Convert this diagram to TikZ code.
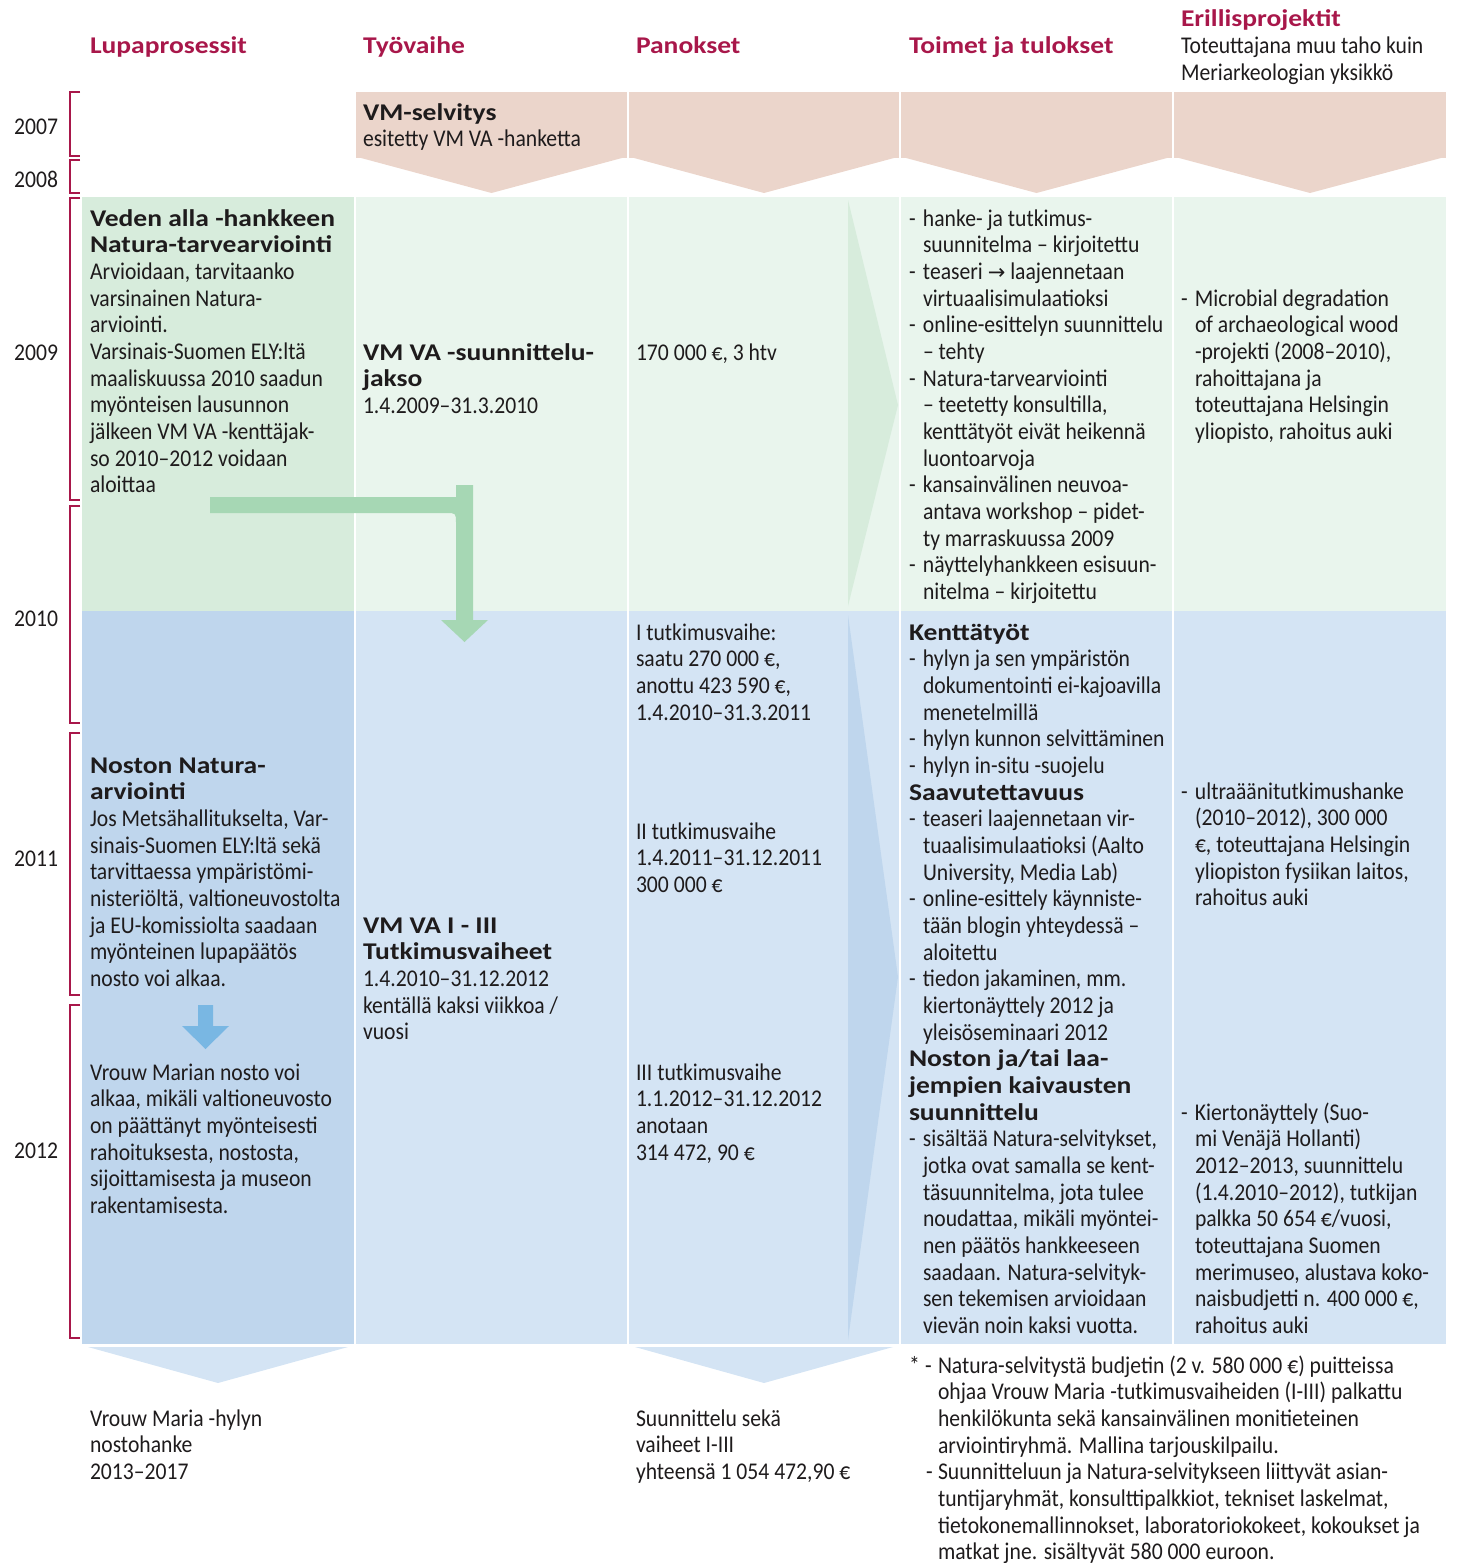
\documentclass[tikz,border=0pt]{standalone}
\usepackage{fontspec}
\newfontfamily\probe{Carlito}
\newfontfamily\arrowfont{DejaVu Sans}
\newdimen\wR \newdimen\wB
\makeatletter
\newcommand\ptnum[1]{\strip@pt#1}
\makeatother
\newcommand\fsz{\fontsize{24}{26.67}\selectfont}
\newcommand\blk[1]{\vtop{\baselineskip=26.67pt\lineskiplimit=-50pt\lineskip=0pt\halign{##\hfil\cr#1\crcr}}}
\newcommand\B[1]{{\bodyB\bfseries #1}}
\newcommand\dd{\hbox to 14pt{-\hfil}}
\newcommand\ii{\hskip14pt\relax}
\definecolor{pinkc}{HTML}{EBD5CB}
\definecolor{gdark}{HTML}{D7ECDC}
\definecolor{glight}{HTML}{E9F5ED}
\definecolor{bdark}{HTML}{BFD6ED}
\definecolor{blight}{HTML}{D4E4F4}
\definecolor{garrow}{HTML}{A6D7B4}
\definecolor{barrow}{HTML}{79B7E3}
\definecolor{redc}{HTML}{A8174A}
\definecolor{txt}{HTML}{1E1B1C}
\begin{document}%
\settowidth\wR{\probe\fsz tietokonemallinnokset, laboratoriokokeet, kokoukset ja}%
\settowidth\wB{\probe\bfseries\fsz Veden alla -hankkeen}%
\edef\sR{\fpeval{round(482/\ptnum\wR,4)}}%
\edef\sB{\fpeval{round(245/\ptnum\wB,4)}}%
\edef\tmp{\noexpand\newfontfamily\noexpand\bodyR{Carlito}[FakeStretch=\sR]\noexpand\newfontfamily\noexpand\bodyB{Carlito}[FakeStretch=\sB]}\tmp%
\begin{tikzpicture}[x=1pt,y=-1pt,
  every node/.style={inner sep=0pt,outer sep=0pt,text=txt,font=\bodyR\fsz},
  txtn/.style={anchor=base west},
  yr/.style={anchor=base east},
  hdr/.style={anchor=base west,text=redc,font=\bodyB\bfseries\fsz},
  yrbr/.style={draw=redc,line width=1.3pt}]
\useasboundingbox (0,0) rectangle (1457,1563);
% pink band with chevrons
\foreach \a/\b in {356/627,629/899,901/1172,1174/1446}{
  \fill[pinkc] (\a,92) rectangle (\b,158);
  \fill[pinkc] (\a+5,158) -- ({(\a+\b)/2},193) -- (\b-5,158) -- cycle;
}
% green band
\fill[gdark] (82,197) rectangle (354,611);
\foreach \a/\b in {356/627,629/899,901/1172,1174/1446}
  \fill[glight] (\a,197) rectangle (\b,611);
% blue band
\fill[bdark] (82,611) rectangle (354,1344);
\foreach \a/\b in {356/627,629/899,901/1172,1174/1446}
  \fill[blight] (\a,611) rectangle (\b,1344);
% right-pointing triangles in Panokset column
\fill[gdark] (848,200) -- (898,405) -- (848,606) -- cycle;
\fill[bdark] (848,615) -- (898,977) -- (848,1340) -- cycle;
% bottom chevrons
\fill[blight] (88,1347) -- (218,1383) -- (348,1347) -- cycle;
\fill[blight] (635,1347) -- (764,1383) -- (893,1347) -- cycle;
% green bent arrow
\fill[garrow] (210,497) -- (456,497) -- (456,485) -- (473,485) -- (473,620) -- (488,620)
  -- (464.5,642) -- (441,620) -- (456,620) -- (456,523) .. controls (456,513) .. (446,513)
  -- (210,513) -- cycle;
% blue down arrow
\fill[barrow] (198,1005) -- (213,1005) -- (213,1026) -- (229,1026) -- (205.5,1049)
  -- (182,1026) -- (198,1026) -- cycle;
% year brackets
\foreach \t/\u in {92/156,160/193,198/500,506/723,733/995,1005/1338}
  \draw[yrbr] (80,\t) -- (70,\t) -- (70,\u) -- (80,\u);
% years
\node[yr] (y07) at (58,134) {2007};
\node[yr] (y08) at (58,187) {2008};
\node[yr] (y09) at (58,360) {2009};
\node[yr] (y10) at (58,626) {2010};
\node[yr] (y11) at (58,866) {2011};
\node[yr] (y12) at (58,1158) {2012};
% headers
\node[hdr] (h1) at (90,54) {Lupaprosessit};
\node[hdr] (h2) at (363,54) {Työvaihe};
\node[hdr] (h3) at (636,54) {Panokset};
\node[hdr] (h4) at (909,54) {Toimet ja tulokset};
\node[hdr] (h5) at (1181,27) {Erillisprojektit};
\node[txtn] (h5b) at (1181,54) {\blk{Toteuttajana muu taho kuin\cr Meriarkeologian yksikkö}};
% pink row
\node[txtn] (vms) at (363,120) {\blk{\B{VM-selvitys}\cr esitetty VM VA -hanketta}};
% green row
\node[txtn] (c1g) at (90,226) {\blk{\B{Veden alla -hankkeen}\cr \B{Natura-tarvearviointi}\cr
Arvioidaan, tarvitaanko\cr varsinainen Natura-\cr arviointi.\cr Varsinais-Suomen ELY:ltä\cr
maaliskuussa 2010 saadun\cr myönteisen lausunnon\cr jälkeen VM VA -kenttäjak-\cr
so 2010–2012 voidaan\cr aloittaa}};
\node[txtn] (c2g) at (363,360) {\blk{\B{VM VA -suunnittelu-}\cr \B{jakso}\cr 1.4.2009–31.3.2010}};
\node[txtn] (c3g) at (636,360) {170 000 €, 3 htv};
\node[txtn] (c4g) at (909,226) {\blk{\dd hanke- ja tutkimus-\cr \ii suunnitelma – kirjoitettu\cr
\dd teaseri {\arrowfont\fontsize{21}{24}\selectfont →} laajennetaan\cr \ii virtuaalisimulaatioksi\cr
\dd online-esittelyn suunnittelu\cr \ii – tehty\cr \dd Natura-tarvearviointi\cr
\ii – teetetty konsultilla,\cr \ii kenttätyöt eivät heikennä\cr \ii luontoarvoja\cr
\dd kansainvälinen neuvoa-\cr \ii antava workshop – pidet-\cr \ii ty marraskuussa 2009\cr
\dd näyttelyhankkeen esisuun-\cr \ii nitelma – kirjoitettu}};
\node[txtn] (c5g) at (1181,306) {\blk{\dd Microbial degradation\cr \ii of archaeological wood\cr
\ii -projekti (2008–2010),\cr \ii rahoittajana ja\cr \ii toteuttajana Helsingin\cr
\ii yliopisto, rahoitus auki}};
% blue row
\node[txtn] (c1b) at (90,773) {\blk{\B{Noston Natura-}\cr \B{arviointi}\cr
Jos Metsähallitukselta, Var-\cr sinais-Suomen ELY:ltä sekä\cr tarvittaessa ympäristömi-\cr
nisteriöltä, valtioneuvostolta\cr ja EU-komissiolta saadaan\cr myönteinen lupapäätös\cr
nosto voi alkaa.}};
\node[txtn] (c1c) at (90,1080) {\blk{Vrouw Marian nosto voi\cr alkaa, mikäli valtioneuvosto\cr
on päättänyt myönteisesti\cr rahoituksesta, nostosta,\cr sijoittamisesta ja museon\cr
rakentamisesta.}};
\node[txtn] (c2b) at (363,933) {\blk{\B{VM VA I - III}\cr \B{Tutkimusvaiheet}\cr
1.4.2010–31.12.2012\cr kentällä kaksi viikkoa /\cr vuosi}};
\node[txtn] (c3b1) at (636,640) {\blk{I tutkimusvaihe:\cr saatu 270 000 €,\cr anottu 423 590 €,\cr
1.4.2010–31.3.2011}};
\node[txtn] (c3b2) at (636,839) {\blk{II tutkimusvaihe\cr 1.4.2011–31.12.2011\cr 300 000 €}};
\node[txtn] (c3b3) at (636,1080) {\blk{III tutkimusvaihe\cr 1.1.2012–31.12.2012\cr anotaan\cr
314 472, 90 €}};
\node[txtn] (c4b) at (909,640) {\blk{\B{Kenttätyöt}\cr \dd hylyn ja sen ympäristön\cr
\ii dokumentointi ei-kajoavilla\cr \ii menetelmillä\cr \dd hylyn kunnon selvittäminen\cr
\dd hylyn in-situ -suojelu\cr \B{Saavutettavuus}\cr \dd teaseri laajennetaan vir-\cr
\ii tuaalisimulaatioksi (Aalto\cr \ii University, Media Lab)\cr \dd online-esittely käynniste-\cr
\ii tään blogin yhteydessä –\cr \ii aloitettu\cr \dd tiedon jakaminen, mm.\cr
\ii kiertonäyttely 2012 ja\cr \ii yleisöseminaari 2012\cr \B{Noston ja/tai laa-}\cr
\B{jempien kaivausten}\cr \B{suunnittelu}\cr \dd sisältää Natura-selvitykset,\cr
\ii jotka ovat samalla se kent-\cr \ii täsuunnitelma, jota tulee\cr \ii noudattaa, mikäli myöntei-\cr
\ii nen päätös hankkeeseen\cr \ii saadaan. Natura-selvityk-\cr \ii sen tekemisen arvioidaan\cr
\ii vievän noin kaksi vuotta.}};
\node[txtn] (c5b1) at (1181,799) {\blk{\dd ultraäänitutkimushanke\cr \ii (2010–2012), 300 000\cr
\ii €, toteuttajana Helsingin\cr \ii yliopiston fysiikan laitos,\cr \ii rahoitus auki}};
\node[txtn] (c5b2) at (1181,1120) {\blk{\dd Kiertonäyttely (Suo-\cr \ii mi Venäjä Hollanti)\cr
\ii 2012–2013, suunnittelu\cr \ii (1.4.2010–2012), tutkijan\cr \ii palkka 50 654 €/vuosi,\cr
\ii toteuttajana Suomen\cr \ii merimuseo, alustava koko-\cr \ii naisbudjetti n. 400 000 €,\cr
\ii rahoitus auki}};
% bottom texts
\node[txtn] (r1) at (90,1426) {\blk{Vrouw Maria -hylyn\cr nostohanke\cr 2013–2017}};
\node[txtn] (r3) at (636,1426) {\blk{Suunnittelu sekä\cr vaiheet I-III\cr yhteensä 1 054 472,90 €}};
\node[txtn] (fn) at (909,1373) {\blk{\hbox to 16pt{*\hfil}\hbox to 13pt{-\hfil}Natura-selvitystä budjetin (2 v. 580 000 €) puitteissa\cr
\hskip29pt ohjaa Vrouw Maria -tutkimusvaiheiden (I-III) palkattu\cr
\hskip29pt henkilökunta sekä kansainvälinen monitieteinen\cr
\hskip29pt arviointiryhmä. Mallina tarjouskilpailu.\cr
\hskip17pt\hbox to 12pt{-\hfil}Suunnitteluun ja Natura-selvitykseen liittyvät asian-\cr
\hskip29pt tuntijaryhmät, konsulttipalkkiot, tekniset laskelmat,\cr
\hskip29pt tietokonemallinnokset, laboratoriokokeet, kokoukset ja\cr
\hskip29pt matkat jne. sisältyvät 580 000 euroon.}};
\end{tikzpicture}%
\end{document}
